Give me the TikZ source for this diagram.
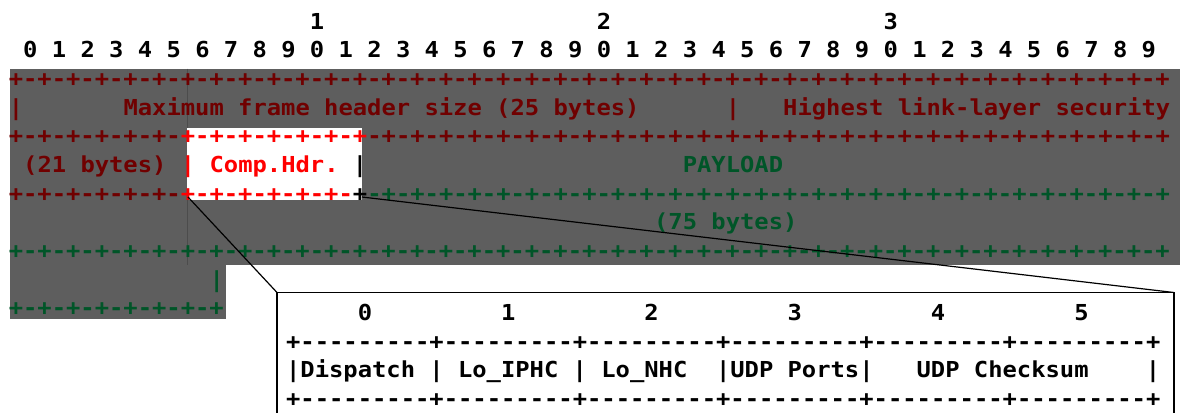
\documentclass[tikz,border=0pt]{standalone}
\usepackage{fontspec}
\setmonofont{DejaVu Sans Mono}[FakeStretch=1.0822]
\ExplSyntaxOn
\NewDocumentCommand\dashrun{mm}{\prg_replicate:nn{#1}{#2}}
\ExplSyntaxOff
\definecolor{bggray}{RGB}{94,94,94}
\definecolor{hdrred}{RGB}{112,0,0}
\definecolor{compred}{RGB}{255,0,0}
\definecolor{payloadgreen}{RGB}{0,85,40}
\tikzset{
  glyphs/.style={anchor=base west, inner sep=0pt, outer sep=0pt,
    font=\ttfamily\bfseries\fontsize{16.5pt}{19pt}\selectfont},
  zoomline/.style={draw=black, line width=0.9pt},
  detailframe/.style={draw=black, line width=1pt},
}
% upper grid: column, row -> character cell
\newcommand\upseg[5]{\node[glyphs, text=#4] (#1) at ({8.83+14.34*(#2)}, {29.3+28.65*(#3)}) {#5};}
% lower grid
\newcommand\loseg[4]{\node[glyphs, text=black] (#1) at ({286.1+14.33*(#2)}, {320.7+28.45*(#3)}) {#4};}
\begin{document}
\begin{tikzpicture}[x=0.75pt, y=-0.75pt]
\useasboundingbox (0,0) rectangle (1180,412);

% background of the frame
\fill[bggray] (10,68.5) rectangle (1180,265);
\fill[bggray] (10,265) rectangle (226,319);
\draw[line width=0.6pt, black!70] (187,68.5) -- (187,265);

% highlighted compressed header
\node[fill=white, inner sep=0pt, minimum width=131.25pt, minimum height=54pt, anchor=north west] (comp) at (187,128) {};

% bit numbering
\upseg{t1}{21}{0}{black}{1}
\upseg{t2}{41}{0}{black}{2}
\upseg{t3}{61}{0}{black}{3}
\foreach \i in {0,...,39}{
  \pgfmathtruncatemacro\d{mod(\i,10)}
  \node[glyphs] (bit\i) at ({8.83+14.34*(2*\i+1)}, {29.3+28.65}) {\d};
}

% frame rows
\upseg{r2}{0}{2}{hdrred}{\dashrun{40}{+-}+}
\upseg{r3a}{0}{3}{hdrred}{|}
\upseg{r3b}{8}{3}{hdrred}{Maximum frame header size (25 bytes)}
\upseg{r3c}{50}{3}{hdrred}{|}
\upseg{r3d}{54}{3}{hdrred}{Highest link-layer security}
\upseg{r4a}{0}{4}{hdrred}{\dashrun{6}{+-}}
\upseg{r4b}{12}{4}{compred}{\dashrun{6}{+-}+}
\upseg{r4c}{25}{4}{hdrred}{\dashrun{28}{-+}}
\upseg{r5a}{1}{5}{hdrred}{(21 bytes)}
\upseg{r5b}{12}{5}{compred}{|}
\upseg{r5c}{14}{5}{compred}{Comp.Hdr.}
\upseg{r5d}{24}{5}{black}{|}
\upseg{r5e}{47}{5}{payloadgreen}{PAYLOAD}
\upseg{r6a}{0}{6}{hdrred}{\dashrun{6}{+-}}
\upseg{r6b}{12}{6}{compred}{\dashrun{6}{+-}}
\upseg{r6c}{24}{6}{black}{+}
\upseg{r6d}{25}{6}{payloadgreen}{\dashrun{28}{-+}}
\upseg{r7a}{45}{7}{payloadgreen}{(75 bytes)}
\upseg{r8}{0}{8}{payloadgreen}{\dashrun{40}{+-}+}
\upseg{r9}{14}{9}{payloadgreen}{|}
\upseg{r10}{0}{10}{payloadgreen}{\dashrun{7}{+-}+}

% detail of the compressed header
\coordinate (zoomA) at (188,197);
\coordinate (zoomB) at (362,197);
\coordinate (detailNW) at (277,292.5);
\coordinate (detailNE) at (1174,292.5);
\coordinate (detailSW) at (277,414);
\coordinate (detailSE) at (1174,414);
\draw[detailframe] (detailSW) -- (detailNW) -- (detailNE) -- (detailSE);
\draw[zoomline] (zoomA) -- (detailNW);
\draw[zoomline] (zoomB) -- (detailNE);

\loseg{o0}{5}{0}{0}
\loseg{o1}{15}{0}{1}
\loseg{o2}{25}{0}{2}
\loseg{o3}{35}{0}{3}
\loseg{o4}{45}{0}{4}
\loseg{o5}{55}{0}{5}
\loseg{d1}{0}{1}{\dashrun{6}{+\dashrun{9}{-}}+}
\loseg{f1}{0}{2}{|Dispatch}
\loseg{f2}{10}{2}{|}
\loseg{f3}{12}{2}{Lo\_IPHC}
\loseg{f4}{20}{2}{|}
\loseg{f5}{22}{2}{Lo\_NHC}
\loseg{f6}{30}{2}{|UDP}
\loseg{f7}{35}{2}{Ports|}
\loseg{f8}{44}{2}{UDP}
\loseg{f9}{48}{2}{Checksum}
\loseg{f10}{60}{2}{|}
\loseg{d2}{0}{3}{\dashrun{6}{+\dashrun{9}{-}}+}
\end{tikzpicture}
\end{document}
